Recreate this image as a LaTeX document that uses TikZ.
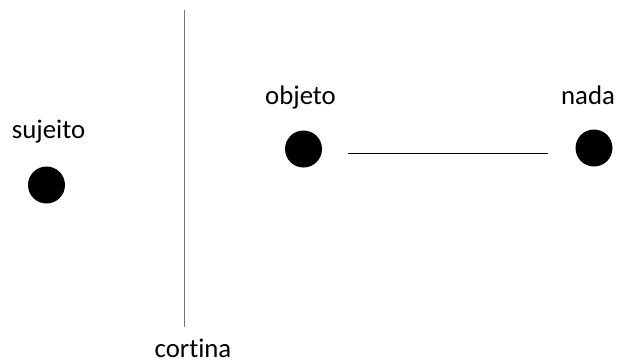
\documentclass[tikz,border=0pt]{standalone}
\usepackage{fontspec}
\setmainfont[Ligatures=NoCommon]{Carlito}
\begin{document}
\begin{tikzpicture}[x=1pt,y=-1pt,
  dot/.style={circle,fill=black,inner sep=0pt,minimum size=37pt},
  lbl/.style={anchor=base,inner sep=0pt,font=\fontsize{26.8}{32}\selectfont}]
\useasboundingbox (0,0) rectangle (617,362);
\node[dot] (sd) at (46.5,185) {};
\node[dot] (od) at (303.5,149) {};
\node[dot] (nd) at (594,148) {};
\node[lbl] (sl) at (48.5,138) {sujeito};
\node[lbl] (ol) at (300.5,104) {objeto};
\node[lbl] (nl) at (588,104.5) {nada};
\node[lbl] (cl) at (193,357) {cortina};
\coordinate (ct) at (184.3,10);
\coordinate (cb) at (184.3,327);
\coordinate (la) at (348,153);
\coordinate (lb) at (548,153);
\draw[line width=1pt,black!55] (ct) -- (cb);
\draw[line width=0.9pt] (la) -- (lb);
\end{tikzpicture}
\end{document}
